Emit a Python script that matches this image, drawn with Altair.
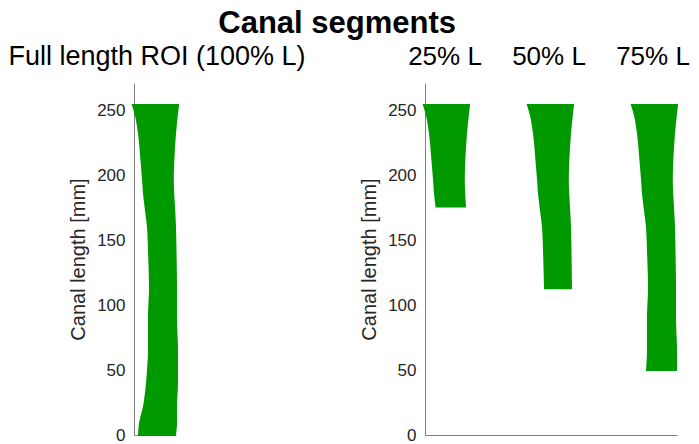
import altair as alt
import pandas as pd

# Canal profile (full length ROI): canal length [mm] and left/right edges
canal_y = [0, 9, 22, 40, 50, 65, 91, 113, 142, 160, 176, 186, 197, 211, 232, 246, 254]
edge_left = [5, 6, 10, 13, 14, 15, 15, 16, 15, 14, 11.5, 10, 9, 7.5, 5, 2, -1]
edge_right = [41, 42, 42, 43, 43, 43, 42, 42, 41.5, 41, 40, 39.2, 38.8, 39.3, 41, 42.8, 44]

# Segments (top portions of the canal)
segment_names = ["25% L", "50% L", "75% L"]
segment_bottom = [176, 113, 50]
segment_offset = [0, 104, 208]

y_ticks = [0, 50, 100, 150, 200, 250]
full_title = "Full length ROI (100% L)"

GREEN = "#009900"
FONT = "Liberation Sans"
TXT = "#262626"

full_df = pd.DataFrame({"y": canal_y, "xl": edge_left, "xr": edge_right})
rows = []
for name, bot, off in zip(segment_names, segment_bottom, segment_offset):
    for y, l, r in zip(canal_y, edge_left, edge_right):
        if y >= bot:
            rows.append({"seg": name, "y": y, "xl": l + off, "xr": r + off})
seg_df = pd.DataFrame(rows)
lab_df = pd.DataFrame({"seg": segment_names,
                       "xc": [o + 20 for o in segment_offset]})

yscale = alt.Scale(domain=[0, 271], nice=False, zero=False)
yaxis = alt.Axis(values=y_ticks, title="Canal length [mm]", titleFontSize=20,
                 titleFont=FONT, titleFontWeight="normal", titleColor=TXT,
                 labelFontSize=17, labelFont=FONT, labelColor=TXT,
                 domainColor="#808080", ticks=False, labelPadding=9,
                 titlePadding=8, grid=False)
xaxis = alt.Axis(labels=False, ticks=False, title=None, domainColor="#808080",
                 grid=False)

PH = 352

left_area = alt.Chart(full_df).mark_area(orient="horizontal", color=GREEN,
                                         stroke=GREEN, strokeWidth=2,
                                         interpolate="monotone").encode(
    y=alt.Y("y:Q", scale=yscale, axis=yaxis),
    x=alt.X("xl:Q", scale=alt.Scale(domain=[0, 42], nice=False, zero=False), axis=xaxis),
    x2="xr:Q",
)
left_label = alt.Chart(pd.DataFrame({"t": [full_title]})).mark_text(
    fontSize=27, font=FONT, color="black", align="center", baseline="alphabetic"
).encode(x=alt.value(23), y=alt.value(-18), text="t:N")
left = alt.layer(left_area, left_label).properties(width=42, height=PH)

right_area = alt.Chart(seg_df).mark_area(orient="horizontal", color=GREEN,
                                        stroke=GREEN, strokeWidth=2,
                                        interpolate="monotone").encode(
    y=alt.Y("y:Q", scale=yscale, axis=yaxis),
    x=alt.X("xl:Q", scale=alt.Scale(domain=[0, 252], nice=False, zero=False), axis=xaxis),
    x2="xr:Q",
    detail="seg:N",
)
right_label = alt.Chart(lab_df).mark_text(
    fontSize=26, font=FONT, color="black", align="center", baseline="alphabetic"
).encode(x=alt.X("xc:Q"), y=alt.value(-18), text="seg:N")
right = alt.layer(right_area, right_label).properties(width=252, height=PH)

chart = alt.hconcat(left, right, spacing=249, bounds="flush").properties(
    title=alt.TitleParams("Canal segments", fontSize=31, fontWeight="bold",
                          font=FONT, color="black", anchor="middle", offset=3,
                          dx=-12),
    padding={"left": 0, "top": 0, "right": 0, "bottom": 0},
).configure_view(stroke=None)

chart.save("out.html", embed_options={"renderer": "svg", "actions": False})
